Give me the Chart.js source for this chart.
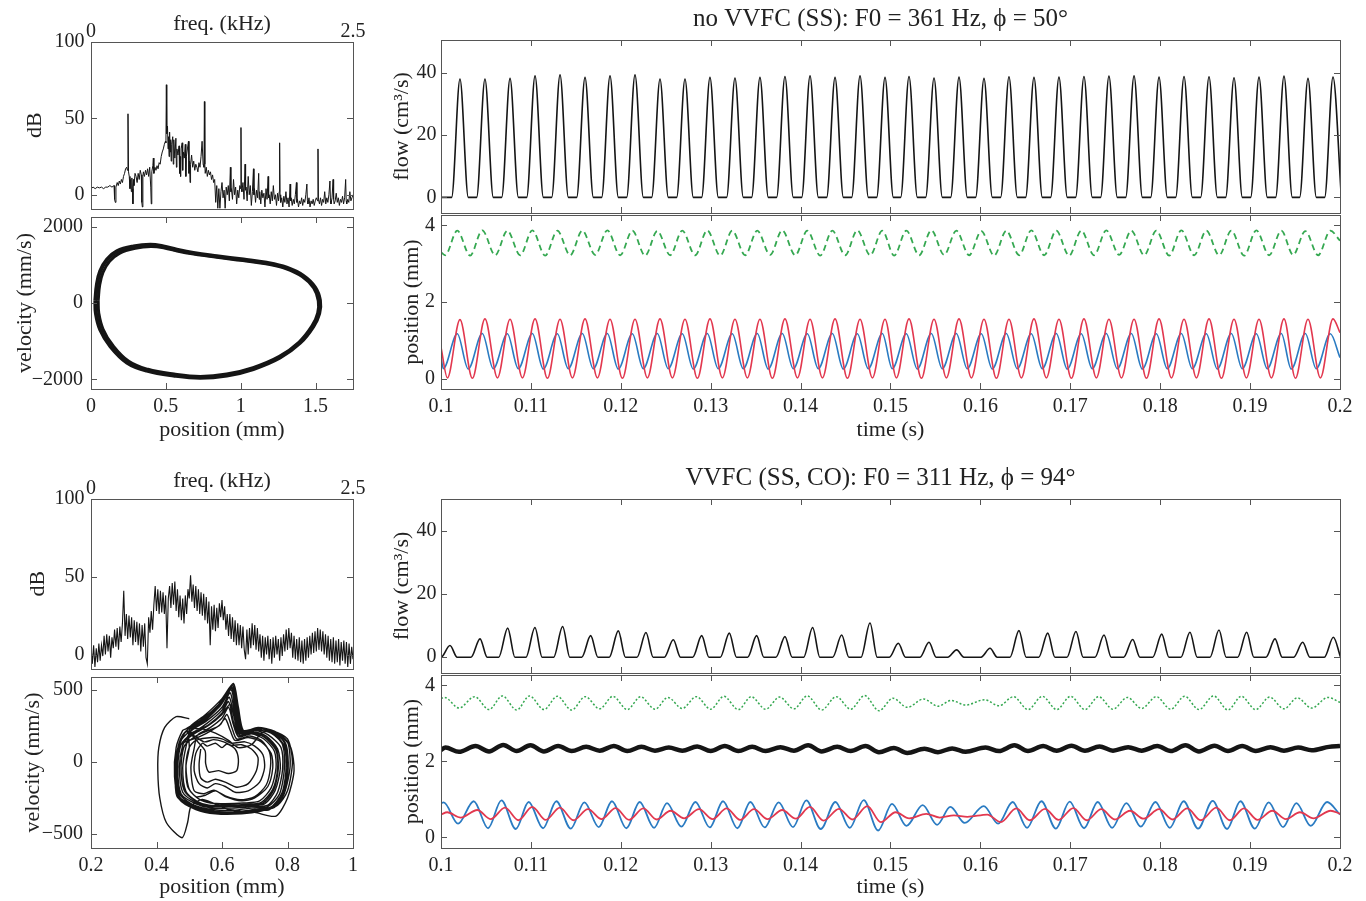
<!DOCTYPE html>
<html>
<head>
<meta charset="utf-8">
<script src="https://cdn.jsdelivr.net/npm/chart.js@4.4.0/dist/chart.umd.min.js"></script>
<style>
html, body { margin: 0; background: #fff; overflow: hidden; width: 1366px; height: 901px; position: relative; }
</style>
</head>
<body>
<script>
// ---- data ----

// time axis ticks (s)
var timeTicks = [0.1, 0.11, 0.12, 0.13, 0.14, 0.15, 0.16, 0.17, 0.18, 0.19, 0.2];

// upper case: no VVFC, F0 = 361 Hz -- flow pulse peaks
var flowTopPeakT = [0.10211,0.10489,0.10768,0.11046,0.11324,0.11602,0.11880,0.12158,0.12436,0.12714,0.12992,0.13270,0.13548,0.13826,0.14105,0.14383,0.14661,0.14939,0.15206,0.15484,0.15762,0.16040,0.16318,0.16596,0.16874,0.17152,0.17430,0.17709,0.17987,0.18265,0.18543,0.18821,0.19099,0.19377,0.19644,0.19922];
var flowTopPeak = [38.0,38.0,38.2,39.0,39.3,38.5,39.0,39.3,38.0,38.0,38.5,38.3,38.5,38.8,39.0,38.5,39.0,38.5,38.8,38.3,38.6,38.2,38.7,38.5,38.6,38.8,38.9,39.0,38.6,38.8,38.7,38.4,38.6,38.9,38.2,38.6];
var flowTopRise = 0.00093, flowTopFall = 0.00093;

// upper case: positions (maxima / minima per cycle)
var topGreenHi = [3.86,3.87,3.86,3.87,3.86,3.86,3.87,3.86,3.85,3.86,3.87,3.86,3.86,3.87,3.86,3.86,3.87,3.86,3.86,3.87,3.86,3.85,3.86,3.87,3.86,3.86,3.87,3.86,3.86,3.87,3.86,3.86,3.87,3.86,3.85,3.86];
var topGreenLo = [3.22,3.21,3.22,3.22,3.21,3.22,3.23,3.22,3.21,3.22,3.22,3.21,3.22,3.23,3.22,3.21,3.22,3.22,3.21,3.22,3.23,3.22,3.21,3.22,3.22,3.21,3.22,3.23,3.22,3.21,3.22,3.22,3.21,3.22,3.23,3.22];
var topRedHi = [1.54,1.56,1.55,1.56,1.55,1.56,1.55,1.55,1.56,1.55,1.56,1.55,1.55,1.56,1.55,1.56,1.55,1.55,1.56,1.55,1.56,1.55,1.55,1.56,1.55,1.56,1.55,1.55,1.56,1.55,1.56,1.55,1.55,1.56,1.55,1.56];
var topRedLo = [0.02,0.01,0.02,0.02,0.01,0.02,0.02,0.01,0.02,0.02,0.01,0.02,0.02,0.01,0.02,0.02,0.01,0.02,0.02,0.01,0.02,0.02,0.01,0.02,0.02,0.01,0.02,0.02,0.01,0.02,0.02,0.01,0.02,0.02,0.01,0.02];
var topBlueHi = [1.17,1.18,1.17,1.18,1.17,1.18,1.18,1.17,1.18,1.17,1.18,1.17,1.18,1.18,1.17,1.18,1.17,1.18,1.17,1.18,1.18,1.17,1.18,1.17,1.18,1.17,1.18,1.18,1.17,1.18,1.17,1.18,1.17,1.18,1.18,1.17];
var topBlueLo = [0.26,0.25,0.26,0.26,0.25,0.26,0.26,0.25,0.26,0.26,0.25,0.26,0.26,0.25,0.26,0.26,0.25,0.26,0.26,0.25,0.26,0.26,0.25,0.26,0.26,0.25,0.26,0.26,0.25,0.26,0.26,0.25,0.26,0.26,0.25,0.26];
// timing of max / min relative to the flow peak (s), value at t=0.1 and t=0.2
var topGreenShape = {hiOff: -0.0003, loOff: -0.00165, y0: 3.30, y1: 3.60};
var topRedShape = {hiOff: 0, loOff: -0.0014, y0: 0.82, y1: 1.20};
var topBlueShape = {hiOff: -0.0003, loOff: -0.00186, y0: 0.58, y1: 0.55};

// lower case: VVFC, F0 = 311 Hz
var flowBotPeakT = [0.1010,0.10434,0.10742,0.11045,0.11353,0.11665,0.11972,0.12280,0.12584,0.12900,0.13207,0.13511,0.13826,0.14134,0.14457,0.14772,0.15087,0.15428,0.15736,0.16107,0.16429,0.16749,0.17063,0.17375,0.17694,0.18017,0.18331,0.18654,0.18962,0.19277,0.19585,0.19926];
var flowBotPeak = [3.7,5.8,9.2,9.4,9.7,6.8,8.3,7.8,5.5,6.8,7.6,6.8,6.5,9.4,7.0,10.8,4.4,4.7,2.3,2.8,8.4,7.6,8.1,7.0,5.6,7.3,7.9,8.6,7.9,5.8,4.7,6.3];
var flowBotRise = 0.0010, flowBotFall = 0.0008;

var botBlueHi = [0.92,0.95,0.97,0.93,0.95,0.92,0.95,0.93,0.90,0.93,0.95,0.93,0.92,0.97,0.93,0.98,0.88,0.85,0.80,0.82,0.93,0.95,0.94,0.93,0.90,0.93,0.95,0.96,0.95,0.92,0.90,0.93];
var botBlueLo = [0.36,0.24,0.22,0.24,0.23,0.27,0.24,0.25,0.28,0.26,0.24,0.26,0.27,0.22,0.25,0.18,0.30,0.33,0.38,0.36,0.25,0.23,0.24,0.25,0.28,0.25,0.23,0.22,0.23,0.27,0.30,0.28];
var botRedHi = [0.66,0.72,0.78,0.80,0.78,0.74,0.77,0.76,0.70,0.74,0.76,0.74,0.72,0.80,0.75,0.82,0.66,0.62,0.58,0.60,0.76,0.75,0.77,0.74,0.70,0.74,0.76,0.78,0.76,0.70,0.66,0.70];
var botRedLo = [0.52,0.48,0.45,0.46,0.45,0.48,0.46,0.47,0.50,0.48,0.46,0.48,0.49,0.44,0.47,0.40,0.50,0.52,0.54,0.40,0.45,0.46,0.45,0.47,0.49,0.47,0.45,0.45,0.46,0.48,0.50,0.50];
var botBlackHi = [2.36,2.40,2.43,2.42,2.40,2.38,2.40,2.38,2.36,2.39,2.40,2.38,2.37,2.42,2.38,2.40,2.35,2.33,2.34,2.36,2.42,2.40,2.41,2.39,2.37,2.40,2.42,2.41,2.40,2.37,2.36,2.38];
var botBlackLo = [2.25,2.26,2.27,2.26,2.27,2.28,2.27,2.28,2.28,2.27,2.27,2.27,2.28,2.26,2.27,2.24,2.22,2.24,2.25,2.27,2.27,2.28,2.28,2.28,2.28,2.27,2.26,2.27,2.27,2.28,2.29,2.29];
var botGreenHi = [3.68,3.70,3.72,3.72,3.71,3.70,3.71,3.70,3.68,3.70,3.71,3.70,3.69,3.72,3.70,3.73,3.66,3.64,3.60,3.62,3.70,3.71,3.71,3.70,3.68,3.70,3.71,3.72,3.71,3.69,3.67,3.68];
var botGreenLo = [3.40,3.36,3.35,3.36,3.35,3.38,3.36,3.37,3.39,3.37,3.36,3.37,3.38,3.35,3.37,3.33,3.42,3.45,3.48,3.46,3.36,3.36,3.36,3.37,3.39,3.37,3.36,3.35,3.36,3.38,3.40,3.39];
var botBlueShape = {hiOff: -0.0007, loOff: 0.0009, y0: 0.90, y1: 0.60};
var botRedShape = {hiOff: -0.0003, loOff: 0.0012, y0: 0.60, y1: 0.62};
var botBlackShape = {hiOff: -0.0005, loOff: 0.0010, y0: 2.30, y1: 2.40};
var botGreenShape = {hiOff: -0.0006, loOff: 0.0010, y0: 3.65, y1: 3.55};

// spectra (kHz, dB)
var specTopF = [0.00,0.02,0.04,0.06,0.08,0.10,0.12,0.14,0.16,0.18,0.20,0.22,
  0.225,0.232,0.238,0.25,0.26,0.27,0.28,0.29,0.30,0.31,0.32,0.33,0.34,0.348,0.353,0.358,
  0.365,0.372,0.378,0.385,0.39,0.395,0.40,0.405,0.41,0.42,0.43,0.44,0.45,0.46,0.47,0.48,
  0.485,0.49,0.495,0.50,0.51,0.52,0.53,0.54,0.55,0.56,0.57,0.575,0.58,0.59,0.595,0.60,
  0.61,0.62,0.63,0.64,0.65,0.66,0.67,0.68,0.69,0.70,0.71,0.715,0.719,0.723,0.73,0.735,
  0.74,0.745,0.75,0.755,0.76,0.765,0.77,0.78,0.785,0.79,0.80,0.81,0.815,0.82,0.83,0.84,
  0.845,0.85,0.855,0.86,0.87,0.875,0.88,0.89,0.90,0.905,0.91,0.92,0.93,0.935,0.94,0.945,
  0.95,0.96,0.97,0.98,0.99,1.00,1.01,1.02,1.03,1.04,1.05,1.06,1.07,1.078,1.082,1.086,
  1.09,1.10,1.11,1.12,1.13,1.14,1.15,1.16,1.17,1.18,1.19,1.20,1.21,1.22,1.23,1.24,
  1.25,1.26,1.27,1.28,1.29,1.30,1.31,1.32,1.33,1.335,1.34,1.35,1.36,1.37,1.38,1.39,
  1.40,1.41,1.42,1.427,1.431,1.435,1.44,1.45,1.46,1.47,1.475,1.48,1.49,1.50,1.51,1.52,
  1.53,1.54,1.55,1.555,1.56,1.57,1.58,1.59,1.60,1.605,1.61,1.62,1.63,1.64,1.65,1.66,
  1.67,1.68,1.69,1.695,1.70,1.71,1.72,1.73,1.74,1.75,1.76,1.77,1.78,1.79,1.796,1.80,
  1.804,1.81,1.82,1.83,1.84,1.85,1.86,1.87,1.88,1.89,1.90,1.905,1.91,1.92,1.93,1.94,
  1.95,1.96,1.965,1.97,1.98,1.99,2.00,2.01,2.02,2.03,2.04,2.05,2.06,2.065,2.07,2.08,
  2.09,2.10,2.11,2.12,2.13,2.14,2.15,2.162,2.166,2.17,2.18,2.19,2.20,2.21,2.22,2.23,
  2.24,2.25,2.26,2.27,2.28,2.285,2.29,2.30,2.31,2.315,2.32,2.33,2.34,2.35,2.36,2.37,
  2.38,2.39,2.40,2.41,2.42,2.43,2.435,2.44,2.45,2.46,2.47,2.48,2.49,2.50];
var specTopDb = [4,5,4,5,4.5,5,4,5,5,6,5,6,
  -3,-5,5,8,6,9,7,10,8,12,14,17,18,16,53,15,
  12,4,10,2,11,4,-6,10,6,14,12,8,14,10,16,13,
  -5,-8,12,15,12,16,13,17,12,18,5,-6,15,19,24,14,
  18,16,19,17,21,20,25,28,30,33,35,34,72,40,45,30,
  38,25,41,28,36,22,33,38,20,36,24,37,18,30,26,32,
  14,25,12,30,34,16,28,24,33,12,25,30,35,14,22,8,
  20,26,18,22,16,20,18,15,21,18,25,35,20,18,61,20,
  14,18,12,16,13,15,10,13,8,10,-5,6,-9,4,-9,2,
  8,-2,3,-9,5,0,6,-4,18,2,4,-3,10,0,5,-6,
  3,-2,6,4,44,4,2,8,-3,20,3,5,-4,12,0,6,
  -7,2,17,0,4,-5,3,-2,14,-3,2,-6,3,-2,1,-8,
  4,-3,12,-2,0,-6,2,-4,6,-3,0,-7,1,-4,2,34,
  0,-5,-2,-8,-1,-5,2,-6,-2,-8,7,-4,-2,-7,-3,-6,
  0,8,-5,-3,-8,-4,-6,-2,-7,-3,-5,0,7,-4,-6,-2,
  -8,-4,-6,-3,-7,-4,-2,-4,30,-3,-6,-2,-7,-3,-5,2,
  -6,-2,-5,0,9,-4,-6,-2,10,-3,-6,-4,1,-5,-2,-7,
  -3,-5,-1,-6,-2,10,-4,-6,-3,-5,2,-4,-2,0];

// lower spectrum on a 12.5 Hz grid from 0 to 2.5 kHz
var specBotStep = 0.0125;
var specBotDb = [5,-6,6,-8,4,-5,7,-4,6,
  -1,12,0,13,2,12,-2,11,
  4,16,5,17,3,18,8,20,
  41,12,26,10,25,11,24,6,
  22,8,21,6,20,2,19,5,
  20,-2,-6,24,14,28,16,32,
  44,28,42,26,41,27,40,26,
  38,4,36,44,30,46,32,47,
  28,42,24,38,22,36,20,38,
  26,42,36,51,34,45,30,44,
  28,42,26,40,25,39,22,37,
  20,34,6,31,16,32,15,30,
  17,33,24,35,22,31,16,26,
  12,26,10,24,8,22,6,20,
  6,19,4,18,3,-3,16,0,
  17,4,20,6,19,3,17,2,
  13,-2,12,-4,11,0,12,-3,
  10,-6,11,-2,12,0,10,-4,
  11,-1,13,2,16,3,17,4,
  14,-2,12,-3,10,-4,11,-5,
  9,-6,10,-4,11,-2,12,0,
  14,1,15,2,17,3,16,2,
  15,0,13,-2,12,-4,10,-5,
  11,-6,9,-5,10,-7,8,-4,
  9,-6,8,-8,7,-6,5,-3];

// phase portraits (position mm, velocity mm/s)
var phaseTopX = [0.029,0.040,0.062,0.107,0.173,0.284,0.396,0.484,0.573,0.684,0.840,1.018,1.173,1.307,1.418,1.496,1.529,1.524,1.484,1.396,1.262,1.084,0.907,0.729,0.551,0.373,0.240,0.129,0.062,0.033,0.029];
var phaseTopY = [68,496,838,1137,1351,1479,1522,1479,1394,1308,1223,1137,1052,923,710,410,68,-274,-616,-1043,-1428,-1727,-1898,-1958,-1898,-1770,-1556,-1129,-701,-274,68];
var phaseTopX2 = [0.048,0.058,0.080,0.124,0.190,0.296,0.400,0.490,0.575,0.686,0.840,1.015,1.168,1.300,1.410,1.487,1.518,1.514,1.476,1.390,1.258,1.082,0.906,0.730,0.555,0.380,0.252,0.144,0.080,0.052,0.048];
var phaseTopY2 = [60,470,800,1090,1300,1430,1475,1440,1360,1280,1195,1110,1025,900,690,395,60,-265,-600,-1020,-1395,-1690,-1860,-1920,-1860,-1735,-1525,-1100,-680,-265,60];

var phaseBotX = [
  0.50,0.46,0.425,0.407,0.404,0.41,0.43,0.478,0.495,0.505,0.54,0.62,0.70,0.765,0.80,0.82,0.81,0.78,0.74,0.72,0.69,0.65,0.62,0.58,0.54,
  0.50,0.55,0.60,0.635,0.65,0.665,0.70,0.75,0.80,0.815,0.80,0.77,0.72,0.66,0.58,0.52,0.47,0.455,0.46,0.48,
  0.49,0.54,0.59,0.63,0.645,0.66,0.71,0.76,0.795,0.80,0.785,0.75,0.70,0.64,0.57,0.51,0.465,0.46,0.47,
  0.50,0.55,0.60,0.625,0.64,0.655,0.70,0.74,0.78,0.785,0.77,0.74,0.69,0.63,0.57,0.52,0.475,0.465,0.475,
  0.51,0.56,0.60,0.62,0.635,0.65,0.69,0.73,0.765,0.77,0.755,0.72,0.67,0.61,0.56,0.52,0.485,0.475,0.485,
  0.52,0.56,0.59,0.61,0.625,0.64,0.68,0.72,0.75,0.755,0.74,0.70,0.66,0.61,0.58,0.55,0.52,0.495,0.49,0.50,
  0.52,0.57,0.60,0.63,0.67,0.70,0.725,0.73,0.715,0.68,0.64,0.61,0.58,0.555,0.53,0.515,0.52,
  0.54,0.555,0.58,0.60,0.615,0.64,0.65,0.645,0.62,0.59,0.56,0.55,0.548,
  0.50,0.545,0.595,0.628,0.642,0.658,0.705,0.755,0.79,0.795,0.78,0.745,0.695,0.635,0.565,0.505,0.462,0.458,0.468,
  0.495,0.55,0.60,0.632,0.648,0.662,0.71,0.76,0.80,0.808,0.79,0.76,0.71,0.65,0.575,0.515,0.468,0.46,0.47,0.49,
  0.51,0.555,0.60,0.622,0.638,0.652,0.695,0.735,0.77,0.778,0.762,0.73,0.68,0.62,0.565,0.52,0.48,0.47,0.48,0.50,
  0.505,0.552,0.598,0.630,0.645,0.66,0.70,0.75,0.785,0.79,0.775,0.74,0.69,0.635,0.57,0.515,0.472,0.465,0.475,
  0.515,0.56,0.60,0.624,0.64,0.655,0.692,0.73,0.765,0.772,0.758,0.725,0.675,0.615,0.56,0.525,0.49,0.48,0.49,
  0.505,0.555,0.60,0.634,0.650,0.664,0.705,0.752,0.79,0.80,0.783,0.75,0.70,0.645,0.575,0.515,0.47,0.462,0.472,
  0.53,0.565,0.595,0.615,0.63,0.645,0.685,0.72,0.745,0.748,0.735,0.70,0.655,0.61,0.575,0.545,0.515,0.505,0.515,
  0.525,0.565,0.60,0.62,0.634,0.65,0.69,0.728,0.76,0.765,0.75,0.715,0.665,0.61,0.565,0.53,0.50,0.49,0.50,
  0.50,0.548,0.596,0.629,0.644,0.66,0.708,0.758,0.795,0.802,0.786,0.752,0.70,0.64,0.57,0.51,0.465,0.458,0.468,0.49,
  0.545,0.575,0.605,0.63,0.66,0.69,0.71,0.705,0.68,0.645,0.61,0.58,0.555,0.535,0.53,0.535];
var phaseBotY = [
  300,315,240,100,-60,-250,-420,-526,-420,-310,-260,-330,-350,-375,-250,-60,100,180,210,200,120,100,150,200,230,
  240,330,440,545,380,220,230,220,160,0,-200,-300,-340,-360,-360,-330,-260,-100,100,220,
  230,300,400,520,360,210,240,210,120,-60,-230,-320,-330,-345,-340,-300,-230,-50,130,
  210,280,380,480,320,200,220,190,100,-50,-210,-300,-310,-320,-320,-290,-220,-40,120,
  200,260,340,420,280,180,200,170,80,-40,-190,-280,-295,-300,-300,-270,-200,-30,110,
  180,220,250,300,220,150,170,140,60,-40,-170,-250,-270,-240,-200,-230,-240,-170,-20,100,
  150,170,160,130,140,110,50,-40,-140,-200,-210,-170,-150,-180,-150,-60,60,
  130,110,130,100,125,90,20,-60,-80,-60,-70,-10,80,
  220,290,390,500,340,205,235,205,110,-70,-240,-330,-335,-350,-345,-310,-235,-60,120,
  225,310,420,530,370,215,235,215,140,-30,-220,-315,-335,-352,-352,-318,-245,-80,110,215,
  205,270,360,450,300,190,210,180,90,-45,-200,-290,-302,-310,-310,-280,-210,-35,115,195,
  215,295,400,510,350,210,225,200,120,-60,-225,-310,-320,-335,-330,-300,-225,-50,120,
  195,255,330,400,290,185,205,175,95,-45,-195,-285,-298,-305,-305,-275,-205,-40,105,
  220,305,415,540,375,220,232,212,135,-40,-215,-312,-330,-348,-348,-312,-240,-70,115,
  175,215,260,330,240,160,180,150,70,-35,-160,-240,-262,-235,-195,-220,-200,-40,95,
  185,240,305,380,265,175,195,160,75,-40,-180,-270,-285,-290,-285,-258,-190,-30,100,
  222,300,410,515,355,210,238,210,125,-50,-228,-322,-332,-347,-344,-306,-232,-56,125,210,
  140,155,140,115,120,90,30,-60,-150,-175,-140,-120,-140,-110,-20,90];

// ---- helpers ----
var INK = '#222';
var FRAME = '#555';
var SERIF = '"Liberation Serif", "Times New Roman", serif';
Chart.defaults.font.family = SERIF;
Chart.defaults.color = INK;

var xy = (xs, ys) => xs.map((x, i) => ({x: x, y: ys[i]}));

var pulses = (peakT, peakH, rise, fall) => {
  var pts = [{x: 0.1, y: 0}];
  peakT.forEach((t, i) => { pts.push({x: t - rise, y: 0}, {x: t, y: peakH[i]}, {x: t + fall, y: 0}); });
  return pts.sort((a, b) => a.x - b.x);
};

var cycles = (cycT, hi, lo, s) => {
  var pts = [{x: 0.1, y: s.y0}, {x: 0.2, y: s.y1}];
  cycT.forEach((t, i) => {
    var a = t + s.hiOff, b = t + s.loOff;
    if (a > 0.1 && a < 0.2) pts.push({x: a, y: hi[i]});
    if (b > 0.1 && b < 0.2) pts.push({x: b, y: lo[i]});
  });
  return pts.sort((a, b) => a.x - b.x);
};

var line = (data, color, width, extra) => Object.assign({
  data: data, showLine: true, borderColor: color, borderWidth: width,
  pointRadius: 0, pointHoverRadius: 0, fill: false, tension: 0
}, extra || {});

var fmt = v => {
  var r = Math.round(v * 100) / 100;
  return r < 0 ? '\u2212' + Math.abs(r) : String(r);
};

// inward tick marks on all four sides plus the box, and the panel heading
var frameTicks = {
  id: 'frameTicks',
  afterDraw(chart, args, opts) {
    var ctx = chart.ctx, a = chart.chartArea, sx = chart.scales.x, sy = chart.scales.y, L = 6;
    ctx.save();
    ctx.strokeStyle = FRAME;
    ctx.lineWidth = 1;
    ctx.beginPath();
    if (opts.xInner) {
      sx.ticks.forEach(t => {
        var px = Math.round(sx.getPixelForValue(t.value)) + 0.5;
        if (px <= a.left + 1 || px >= a.right - 1) return;
        ctx.moveTo(px, a.bottom); ctx.lineTo(px, a.bottom - L);
        ctx.moveTo(px, a.top); ctx.lineTo(px, a.top + L);
      });
    }
    sy.ticks.forEach(t => {
      var py = Math.round(sy.getPixelForValue(t.value)) + 0.5;
      if (py <= a.top + 1 || py >= a.bottom - 1) return;
      ctx.moveTo(a.left, py); ctx.lineTo(a.left + L, py);
      ctx.moveTo(a.right, py); ctx.lineTo(a.right - L, py);
    });
    ctx.stroke();
    ctx.strokeRect(Math.round(a.left) + 0.5, Math.round(a.top) + 0.5, Math.round(a.right - a.left), Math.round(a.bottom - a.top));
    if (opts.heading) {
      ctx.fillStyle = INK;
      ctx.font = '25px ' + SERIF;
      ctx.textAlign = 'center';
      ctx.textBaseline = 'middle';
      ctx.fillText(opts.heading, (a.left + a.right) / 2 - 10, a.top - 21);
    }
    ctx.restore();
  }
};

function panel(p) {
  var area = p.area, m = p.m;
  var w = area.r - area.l + m.l + m.r, h = area.b - area.t + m.t + m.b;
  var cv = document.createElement('canvas');
  cv.width = w; cv.height = h;
  cv.style.cssText = 'position:absolute;left:' + (area.l - m.l) + 'px;top:' + (area.t - m.t) + 'px;width:' + w + 'px;height:' + h + 'px';
  document.body.appendChild(cv);
  var xTop = p.xPos === 'top';
  return new Chart(cv, {
    type: 'scatter',
    data: {datasets: p.datasets},
    options: {
      responsive: false, animation: false, devicePixelRatio: 1, events: [],
      layout: {padding: {left: 0, right: m.r, top: xTop ? 0 : m.t, bottom: (p.xShow && !xTop) ? 0 : m.b}},
      plugins: {
        legend: {display: false},
        tooltip: {enabled: false},
        title: {display: false},
        frameTicks: {xInner: p.xInner !== false, heading: p.title || ''}
      },
      scales: {
        x: {
          type: 'linear', position: p.xPos || 'bottom', min: p.xMin, max: p.xMax,
          afterBuildTicks: s => { s.ticks = p.xTicks.map(v => ({value: v})); },
          afterFit: s => { s.height = xTop ? m.t : (p.xShow ? m.b : 0); },
          grid: {display: false, drawTicks: false},
          border: {display: false},
          ticks: {display: !!p.xShow, autoSkip: false, maxRotation: 0, padding: p.xPad || 0, color: INK, font: {size: 20, lineHeight: 1}, callback: fmt},
          title: {display: !!p.xTitle, text: p.xTitle || '', color: INK, font: {size: 22, lineHeight: 1.2}, padding: p.xTitlePad || 0}
        },
        y: {
          type: 'linear', position: 'left', min: p.yMin, max: p.yMax,
          afterBuildTicks: s => { s.ticks = p.yTicks.map(v => ({value: v})); },
          afterFit: s => { s.width = m.l; },
          grid: {display: false, drawTicks: false},
          border: {display: false},
          ticks: {autoSkip: false, padding: p.yPad, color: INK, font: {size: 20, lineHeight: 1}, callback: fmt},
          title: {display: true, text: p.yTitle, color: INK, font: {size: 22, lineHeight: 1.2}, padding: {top: p.yTitlePad, bottom: 0}}
        }
      }
    },
    plugins: [frameTicks]
  });
}

// ---- colours ----
var GREEN = '#35a851', RED = '#e2384f', BLUE = '#2a7bc2', BLACK = '#151515';

// ---- upper row ----
panel({
  area: {l: 91, t: 42, r: 353, b: 213}, m: {l: 91, t: 42, r: 20, b: 12},
  xPos: 'top', xShow: true, xMin: 0, xMax: 2.5, xTicks: [0, 2.5], xInner: false, xPad: 0,
  xTitle: 'freq. (kHz)', xTitlePad: {top: 11, bottom: 0},
  yMin: -9, yMax: 100, yTicks: [0, 50, 100], yPad: 6.5, yTitle: 'dB', yTitlePad: 22,
  datasets: [line(xy(specTopF, specTopDb), BLACK, 1)]
});
panel({
  area: {l: 91, t: 214, r: 353, b: 389}, m: {l: 91, t: 15, r: 20, b: 55},
  xShow: true, xMin: 0, xMax: 1.75, xTicks: [0, 0.5, 1, 1.5], xPad: 7.5,
  xTitle: 'position (mm)', xTitlePad: {top: 0, bottom: 0.8},
  yMin: -2250, yMax: 2250, yTicks: [-2000, 0, 2000], yPad: 8, yTitle: 'velocity (mm/s)', yTitlePad: 11.8,
  datasets: [
    line(xy(phaseTopX, phaseTopY), BLACK, 4, {tension: 0.4}),
    line(xy(phaseTopX2, phaseTopY2), BLACK, 3, {tension: 0.4})
  ]
});
panel({
  area: {l: 441, t: 40, r: 1340, b: 213}, m: {l: 61, t: 40, r: 40, b: 15},
  title: 'no VVFC (SS): F0 = 361 Hz, \u03d5 = 50\u00b0',
  xShow: false, xMin: 0.1, xMax: 0.2, xTicks: timeTicks,
  yMin: -5, yMax: 50.5, yTicks: [0, 20, 40], yPad: 4.5, yTitle: 'flow (cm\u00b3/s)', yTitlePad: 8.8,
  datasets: [line(pulses(flowTopPeakT, flowTopPeak, flowTopRise, flowTopFall), BLACK, 1.6, {cubicInterpolationMode: 'monotone'})]
});
panel({
  area: {l: 441, t: 214, r: 1340, b: 389}, m: {l: 61, t: 15, r: 40, b: 55},
  xShow: true, xMin: 0.1, xMax: 0.2, xTicks: timeTicks, xPad: 7.5,
  xTitle: 'time (s)', xTitlePad: {top: 0, bottom: 0.8},
  yMin: -0.27, yMax: 4.27, yTicks: [0, 2, 4], yPad: 6, yTitle: 'position (mm)', yTitlePad: 19.3,
  datasets: [
    line(cycles(flowTopPeakT, topGreenHi, topGreenLo, topGreenShape), GREEN, 1.8, {cubicInterpolationMode: 'monotone', borderDash: [6, 4]}),
    line(cycles(flowTopPeakT, topRedHi, topRedLo, topRedShape), RED, 1.6, {cubicInterpolationMode: 'monotone'}),
    line(cycles(flowTopPeakT, topBlueHi, topBlueLo, topBlueShape), BLUE, 1.6, {cubicInterpolationMode: 'monotone'})
  ]
});

// ---- lower row ----
panel({
  area: {l: 91, t: 499, r: 353, b: 673}, m: {l: 91, t: 42, r: 20, b: 12},
  xPos: 'top', xShow: true, xMin: 0, xMax: 2.5, xTicks: [0, 2.5], xInner: false, xPad: 0,
  xTitle: 'freq. (kHz)', xTitlePad: {top: 11, bottom: 0},
  yMin: -9, yMax: 100, yTicks: [0, 50, 100], yPad: 6.5, yTitle: 'dB', yTitlePad: 25,
  datasets: [line(specBotDb.map((d, i) => ({x: i * specBotStep, y: d})), BLACK, 1.1)]
});
panel({
  area: {l: 91, t: 674, r: 353, b: 848}, m: {l: 91, t: 15, r: 20, b: 53},
  xShow: true, xMin: 0.2, xMax: 1, xTicks: [0.2, 0.4, 0.6, 0.8, 1], xPad: 7.5,
  xTitle: 'position (mm)', xTitlePad: {top: 0, bottom: 0.8},
  yMin: -597, yMax: 590, yTicks: [-500, 0, 500], yPad: 8, yTitle: 'velocity (mm/s)', yTitlePad: 19.8,
  datasets: [line(xy(phaseBotX, phaseBotY), BLACK, 1.4, {tension: 0.25})]
});
panel({
  area: {l: 441, t: 499, r: 1340, b: 673}, m: {l: 61, t: 40, r: 40, b: 15},
  title: 'VVFC (SS, CO): F0 = 311 Hz, \u03d5 = 94\u00b0',
  xShow: false, xMin: 0.1, xMax: 0.2, xTicks: timeTicks,
  yMin: -5, yMax: 50, yTicks: [0, 20, 40], yPad: 4.5, yTitle: 'flow (cm\u00b3/s)', yTitlePad: 8.8,
  datasets: [line(pulses(flowBotPeakT, flowBotPeak, flowBotRise, flowBotFall), BLACK, 1.6, {cubicInterpolationMode: 'monotone'})]
});
panel({
  area: {l: 441, t: 674, r: 1340, b: 848}, m: {l: 61, t: 15, r: 40, b: 53},
  xShow: true, xMin: 0.1, xMax: 0.2, xTicks: timeTicks, xPad: 7.5,
  xTitle: 'time (s)', xTitlePad: {top: 0, bottom: 0.8},
  yMin: -0.28, yMax: 4.27, yTicks: [0, 2, 4], yPad: 6, yTitle: 'position (mm)', yTitlePad: 19.3,
  datasets: [
    line(cycles(flowBotPeakT, botGreenHi, botGreenLo, botGreenShape), GREEN, 1.5, {cubicInterpolationMode: 'monotone', borderDash: [2, 2]}),
    line(cycles(flowBotPeakT, botBlackHi, botBlackLo, botBlackShape), BLACK, 4.5, {cubicInterpolationMode: 'monotone'}),
    line(cycles(flowBotPeakT, botRedHi, botRedLo, botRedShape), RED, 1.8, {cubicInterpolationMode: 'monotone'}),
    line(cycles(flowBotPeakT, botBlueHi, botBlueLo, botBlueShape), BLUE, 1.8, {cubicInterpolationMode: 'monotone'})
  ]
});
</script>
</body>
</html>
